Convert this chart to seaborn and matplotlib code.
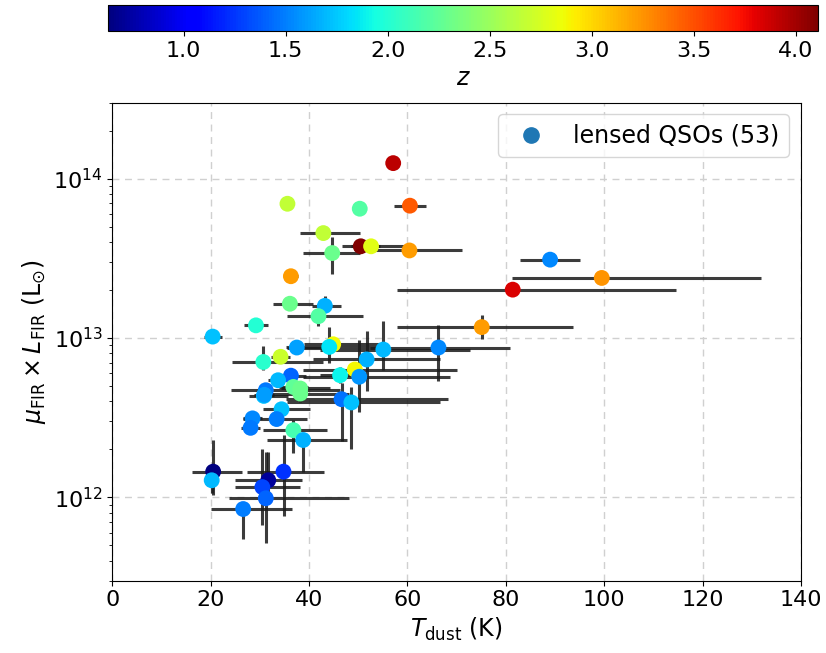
import numpy as np
import pandas as pd
import matplotlib
matplotlib.use("Agg")
import matplotlib.pyplot as plt
import seaborn as sns
from matplotlib.lines import Line2D

# ---- data ----
t_dust = [57.1, 35.6, 50.3, 60.5, 42.9, 50.5, 52.6, 60.4, 44.7, 36.3,
          36.1, 43.2, 41.9, 29.2, 20.4, 89.0, 99.5, 81.4, 75.1, 66.3,
          37.5, 44.9, 44.1, 55.1, 34.2, 30.7, 51.7, 49.3, 50.2, 46.3,
          36.3, 33.7, 36.8, 38.2, 38.2, 31.2, 30.8, 46.6, 48.6, 34.4,
          28.5, 28.1, 33.4, 36.8, 38.8, 20.5, 20.2, 31.7, 34.8, 30.5,
          31.2, 26.6, 30.9]
l_fir_1e12 = [125, 69.5, 64.7, 67.6, 45.5, 37.6, 37.6, 35.4, 34.1, 24.4,
              16.4, 15.9, 13.7, 12.0, 10.2, 31.0, 23.8, 20.1, 11.7, 8.71,
              8.71, 9.13, 8.79, 8.46, 7.62, 7.07, 7.33, 6.34, 5.71, 5.84,
              5.80, 5.43, 4.93, 4.82, 4.48, 4.70, 4.33, 4.13, 3.94, 3.57,
              3.13, 2.73, 3.10, 2.64, 2.29, 1.45, 1.28, 1.28, 1.45, 1.16,
              0.987, 0.845, 4.40]
redshift = [3.93, 2.66, 2.2, 3.46, 2.66, 4.11, 2.8, 3.22, 2.3, 3.22,
            2.3, 1.67, 2.2, 2.0, 1.72, 1.53, 3.24, 3.83, 3.22, 1.53,
            1.62, 2.86, 1.85, 1.7, 2.7, 2.03, 1.67, 2.88, 1.58, 1.9,
            1.41, 1.7, 2.25, 2.3, 2.3, 1.48, 1.72, 1.45, 1.72, 1.72,
            1.53, 1.48, 1.5, 2.15, 1.67, 0.63, 1.7, 0.72, 1.24, 1.3,
            1.41, 1.5, 1.6]
t_err_lo = [0, 0, 0, 3.2, 4.7, 3.9, 4, 7.6, 5.9, 1.5,
            3.5, 2.7, 6.4, 2.4, 1.8, 6.1, 18.2, 23.5, 17.2, 14,
            2, 6, 8.7, 12.8, 2, 6.4, 10.9, 10.6, 11.4, 4,
            3, 2, 3, 4, 7.5, 7, 3, 11.2, 13, 3.8,
            2, 1.9, 6.9, 6.2, 7.4, 4.3, 0, 6.8, 7.5, 5.5,
            7.5, 6.6, 2]
t_err_hi = [0, 0, 0, 3.2, 7.5, 3.9, 7, 10.6, 5.7, 1.5,
            4.7, 3.3, 9.0, 2.4, 1.8, 6.1, 32.4, 33.1, 18.6, 14.6,
            7, 10, 10, 17.7, 2, 12.2, 14.9, 20.7, 18.4, 4,
            3, 2, 3, 6, 10, 15, 5, 21.6, 18, 5.8,
            2, 1.9, 6.1, 6.8, 8.9, 5.8, 0, 6.8, 8.2, 7.7,
            17, 9.9, 2]
l_err_lo_dex = [0, 0, 0, 0, 0, 0, 0, 0, 0.13, 0,
                0, 0.03, 0.06, 0, 0, 0, 0.03, 0, 0.075, 0.21,
                0, 0, 0.10, 0.13, 0.03, 0.05, 0.2, 0, 0.22, 0.05,
                0, 0, 0, 0, 0.05, 0, 0, 0.26, 0.29, 0,
                0, 0, 0, 0.144, 0.2, 0.146, 0.08, 0.1, 0.28, 0.24,
                0.28, 0.19, 0]
l_err_hi_dex = [0, 0, 0, 0, 0, 0, 0, 0, 0.10, 0,
                0, 0.06, 0, 0, 0, 0, 0.03, 0, 0.075, 0.14,
                0, 0, 0.125, 0.18, 0.03, 0.1, 0.18, 0, 0.23, 0.05,
                0, 0, 0, 0, 0.05, 0, 0, 0.1, 0.1, 0,
                0, 0, 0, 0.063, 0.02, 0.2, 0, 0.18, 0.23, 0.24,
                0.29, 0.02, 0]

z_min, z_max = 0.63, 4.11
legend_label = "lensed QSOs (53)"

df = pd.DataFrame({
    "T": t_dust,
    "L": np.array(l_fir_1e12) * 1e12,
    "z": redshift,
})
L = df["L"].values
yerr = [L - L * 10 ** (-np.array(l_err_lo_dex)), L * 10 ** np.array(l_err_hi_dex) - L]
xerr = [t_err_lo, t_err_hi]

plt.rcParams["font.family"] = ["DejaVu Sans"]
fig = plt.figure(figsize=(8.26, 6.53), dpi=100)
ax = fig.add_axes([0.136, 0.1107, 0.8337, 0.7323])

ax.errorbar(df["T"], df["L"], xerr=xerr, yerr=yerr, fmt="none",
            ecolor="#1a1a1a", elinewidth=2.2, alpha=0.85, capsize=0, zorder=2)

jet = matplotlib.colormaps["jet"]
norm = matplotlib.colors.Normalize(vmin=z_min, vmax=z_max)
sns.scatterplot(data=df, x="T", y="L", hue="z", palette=jet, hue_norm=norm,
                s=130, linewidth=0, legend=False, ax=ax, zorder=3)

ax.set_yscale("log")
ax.set_xlim(0, 140)
ax.set_ylim(3e11, 3e14)
ax.set_axisbelow(True)
ax.grid(True, which="major", ls=(0, (5, 4)), color="#d0d0d0", lw=1.0)
ax.tick_params(axis="both", which="major", labelsize=16)
ax.set_xlabel(r"$T_{\rm dust}$ (K)", fontsize=17)
ax.set_ylabel(r"$\mu_{\rm FIR} \times L_{\rm FIR}$ (L$_{\odot}$)", fontsize=17)

handle = Line2D([], [], marker="o", ls="", color="#1f77b4", markersize=11)
ax.legend([handle], [legend_label], loc="upper right", fontsize=17)

cax = fig.add_axes([0.1308, 0.9525, 0.8596, 0.0398])
sm = matplotlib.cm.ScalarMappable(norm=norm, cmap=jet)
cb = fig.colorbar(sm, cax=cax, orientation="horizontal")
cb.set_ticks([1.0, 1.5, 2.0, 2.5, 3.0, 3.5, 4.0])
cb.ax.tick_params(labelsize=16)
cb.set_label(r"$z$", fontsize=17)

fig.savefig("out.png", dpi=100)
